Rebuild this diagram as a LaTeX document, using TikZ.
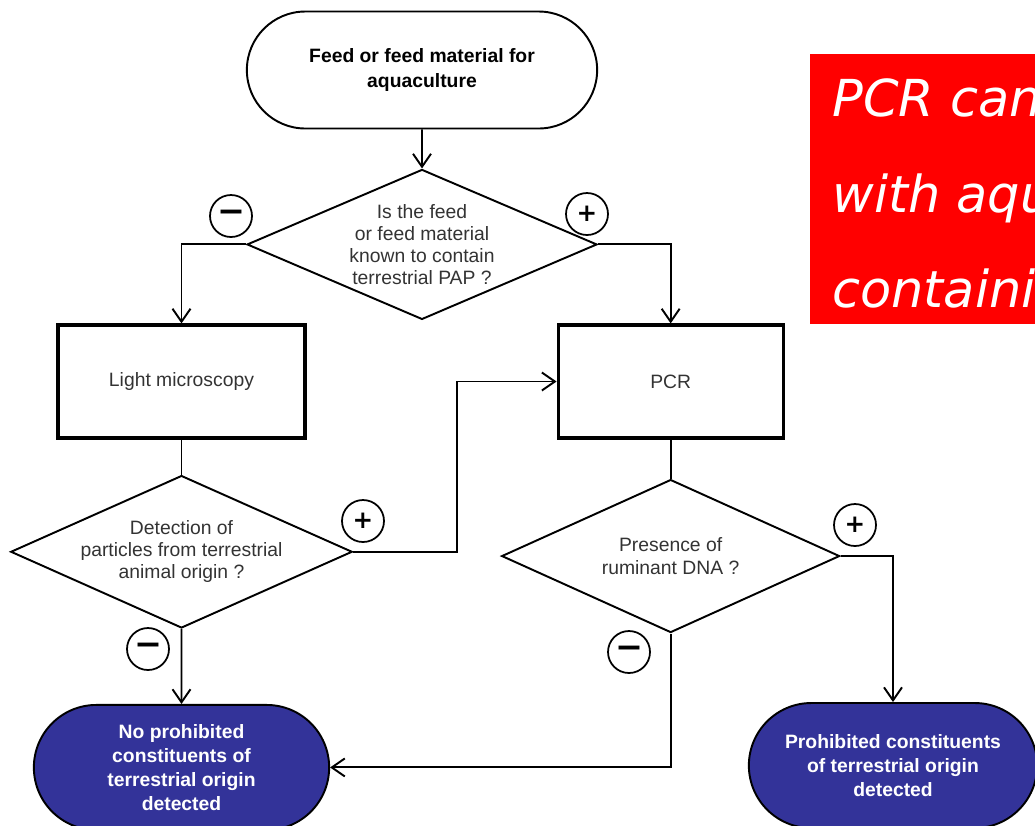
\documentclass[tikz,border=0pt]{standalone}
\usepackage{fontspec}
\setmainfont{Liberation Sans}
\newfontfamily\signfont{DejaVu Sans}
\newfontfamily\bannerfont{DejaVu Sans}
\usetikzlibrary{shapes.geometric,shapes.misc,arrows.meta,positioning}
\definecolor{termblue}{HTML}{333399}
\definecolor{qgray}{HTML}{333333}

\begin{document}
\begin{tikzpicture}[node distance=0.78cm,every node/.style={align=center,font=\fontsize{11}{12.6}\selectfont},
term/.style={draw,rounded rectangle,line width=1.1pt,minimum width=7.24cm,minimum height=2.34cm,font=\fontsize{11}{13.7}\selectfont\bfseries},
endterm/.style={term,fill=termblue,text=white,minimum height=2.5cm},
decision/.style={draw,diamond,line width=1.1pt,inner sep=0pt,text=qgray},
proc/.style={draw,line width=1.8pt,minimum height=2.26cm,text=qgray},
sign/.style={draw,circle,line width=1pt,minimum size=0.84cm,inner sep=0pt,font=\signfont\bfseries},
banner/.style={text=white,inner sep=0pt,anchor=base west,font=\bannerfont\itshape\fontsize{29}{29}\selectfont},
flow/.style={line width=1.1pt,-{Straight Barb[length=2.6mm,width=3.6mm]}},
link/.style={line width=1.1pt}]
\useasboundingbox(0,0)rectangle(20.7,-16.5);
\clip(0,0)rectangle(20.7,-16.5);
% flowchart
\node[term](S) at (8.44,-1.4){Feed or feed material for\\aquaculture};
\node[decision,aspect=2.33,minimum width=7cm,minimum height=3cm,below=of S](Q1){Is the feed\\or feed material\\known to contain\\terrestrial PAP ?};
\node[proc,minimum width=4.94cm](LM) at (3.63,-7.63){Light microscopy};
\node[proc,minimum width=4.5cm,right=5cm of LM](PCR){PCR};
\node[decision,aspect=2.24,minimum width=6.82cm,minimum height=3.04cm,below=0.7cm of LM](Q2){Detection of\\particles from terrestrial\\animal origin ?};
\node[decision,aspect=2.2,minimum width=6.76cm,minimum height=3.06cm,below=of PCR](Q3){Presence of\\ruminant DNA ?};
\node[endterm,minimum width=6.14cm,below=1.5cm of Q2](NO){No prohibited\\constituents of\\terrestrial origin\\detected};
\node[endterm,minimum width=6cm](YES) at (17.86,-15.31){Prohibited constituents\\of terrestrial origin\\detected};
% outcome signs
\node[sign](M1) at (4.62,-4.32){\fontsize{19}{19}\selectfont −};
\node[sign](P1) at (11.74,-4.28){\fontsize{14}{14}\selectfont +};
\node[sign](P2) at (7.26,-10.42){\fontsize{14}{14}\selectfont +};
\node[sign](M2) at (2.96,-12.98){\fontsize{19}{19}\selectfont −};
\node[sign](P3) at (17.1,-10.5){\fontsize{14}{14}\selectfont +};
\node[sign](M3) at (12.58,-13.04){\fontsize{19}{19}\selectfont −};
\draw[flow](S)--(Q1);
\draw[flow](Q1.west)-|(LM.north);
\draw[flow](Q1.east)-|(PCR.north);
\draw[link](LM)--(Q2);
\draw[flow](Q2.east)--++(2.08,0)|-(PCR.west);
\draw[flow](Q2)--(NO);
\draw[link](PCR)--(Q3);
\draw[flow](Q3.east)-|(YES.north);
\draw[flow](Q3.south)|-(NO.east);
% red banner
\fill[red](16.2,-1.08)rectangle(20.8,-6.48);
\node[banner](B1) at (16.64,-2.32){PCR can};
\node[banner](B2) at (16.64,-4.24){with aqua};
\node[banner](B3) at (16.64,-6.14){containing};
\end{tikzpicture}
\end{document}
